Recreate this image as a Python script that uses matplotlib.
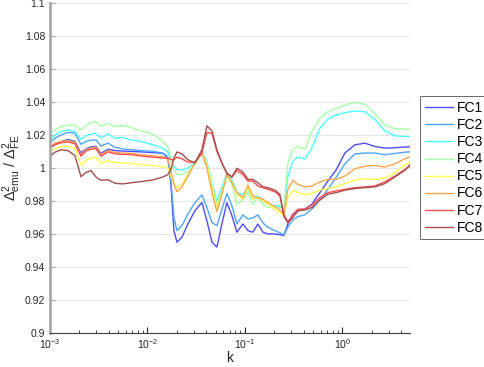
import numpy as np
import matplotlib
matplotlib.use('Agg')
import matplotlib.pyplot as plt

# log10(k) sample positions
log_k = [-3.000, -2.949, -2.887, -2.815, -2.744, -2.682, -2.631, -2.579, -2.528, -2.477,
         -2.405, -2.333, -2.251, -2.169, -2.067, -1.944, -1.841, -1.790, -1.759, -1.728,
         -1.697, -1.646, -1.585, -1.513, -1.441, -1.390, -1.338, -1.287, -1.236, -1.185,
         -1.133, -1.082, -1.021, -0.969, -0.918, -0.867, -0.815, -0.764, -0.692, -0.641,
         -0.600, -0.559, -0.508, -0.456, -0.385, -0.313, -0.231, -0.149, -0.067, 0.026,
         0.128, 0.231, 0.333, 0.436, 0.538, 0.641, 0.692]

fc1 = [1.012, 1.014, 1.016, 1.0172, 1.016, 1.009, 1.0115, 1.0128, 1.013, 1.0088,
       1.0113, 1.0105, 1.0102, 1.010, 1.0097, 1.0093, 1.0088, 1.006, 0.990, 0.962,
       0.955, 0.958, 0.966, 0.974, 0.979, 0.968, 0.955, 0.952, 0.966, 0.979,
       0.971, 0.961, 0.966, 0.962, 0.961, 0.966, 0.961, 0.960, 0.960, 0.9595,
       0.959, 0.966, 0.972, 0.974, 0.975, 0.978, 0.985, 0.992, 0.9985, 1.009,
       1.014, 1.015, 1.013, 1.012, 1.0122, 1.0127, 1.0127]
fc2 = [1.015, 1.018, 1.020, 1.0215, 1.021, 1.0143, 1.016, 1.0168, 1.017, 1.0133,
       1.015, 1.0125, 1.0115, 1.011, 1.0105, 1.010, 1.009, 1.0067, 0.992, 0.970,
       0.962, 0.965, 0.972, 0.979, 0.9836, 0.976, 0.967, 0.965, 0.975, 0.9845,
       0.977, 0.966, 0.9715, 0.969, 0.9697, 0.9715, 0.9667, 0.964, 0.962, 0.9606,
       0.9594, 0.964, 0.9685, 0.9705, 0.9715, 0.975, 0.9806, 0.987, 0.994, 1.0025,
       1.0085, 1.009, 1.009, 1.008, 1.0088, 1.0095, 1.0097]
fc3 = [1.017, 1.020, 1.022, 1.023, 1.022, 1.0174, 1.0195, 1.0206, 1.021, 1.018,
       1.0206, 1.018, 1.0185, 1.017, 1.016, 1.014, 1.012, 1.0097, 1.005, 1.001,
       0.999, 0.9985, 1.000, 1.003, 1.0097, 1.004, 0.991, 0.980, 0.988, 0.997,
       0.993, 0.985, 0.984, 0.987, 0.981, 0.983, 0.980, 0.978, 0.977, 0.977,
       0.975, 0.995, 1.004, 1.0065, 1.0055, 1.012, 1.024, 1.0295, 1.032, 1.0335,
       1.0345, 1.034, 1.0295, 1.0225, 1.0195, 1.019, 1.019]
fc4 = [1.020, 1.023, 1.025, 1.026, 1.026, 1.023, 1.0255, 1.0275, 1.028, 1.025,
       1.027, 1.025, 1.0258, 1.0245, 1.0225, 1.0205, 1.016, 1.013, 1.006, 0.999,
       0.996, 0.996, 0.998, 1.002, 1.009, 1.003, 0.990, 0.978, 0.986, 0.996,
       0.990, 0.978, 0.9806, 0.985, 0.978, 0.982, 0.978, 0.976, 0.976, 0.976,
       0.9755, 1.003, 1.011, 1.013, 1.0115, 1.022, 1.030, 1.034, 1.036, 1.038,
       1.0398, 1.0385, 1.033, 1.026, 1.0238, 1.0235, 1.0235]
fc5 = [1.010, 1.0115, 1.013, 1.0133, 1.012, 1.0018, 1.0045, 1.006, 1.0063, 1.0028,
       1.0044, 1.0032, 1.003, 1.0028, 1.002, 1.0014, 1.0006, 1.000, 0.995, 0.9905,
       0.988, 0.990, 0.996, 1.003, 1.009, 1.002, 0.988, 0.976, 0.985, 0.996,
       0.992, 0.984, 0.981, 0.988, 0.981, 0.982, 0.980, 0.978, 0.975, 0.973,
       0.971, 0.982, 0.9865, 0.985, 0.9838, 0.9845, 0.9867, 0.9875, 0.9885, 0.9905,
       0.9925, 0.9935, 0.993, 0.9938, 0.997, 1.002, 1.0036]
fc6 = [1.013, 1.015, 1.016, 1.0166, 1.0154, 1.0079, 1.011, 1.0122, 1.0125, 1.0079,
       1.0105, 1.0093, 1.009, 1.0089, 1.008, 1.0073, 1.0069, 1.005, 0.998, 0.990,
       0.9855, 0.9885, 0.995, 1.003, 1.009, 1.000, 0.985, 0.9735, 0.984, 0.996,
       0.991, 0.985, 0.982, 0.9895, 0.983, 0.982, 0.981, 0.979, 0.9765, 0.9745,
       0.972, 0.987, 0.9925, 0.990, 0.9885, 0.989, 0.9915, 0.993, 0.993, 0.995,
       0.9995, 1.001, 1.0015, 1.0005, 1.0025, 1.0055, 1.0067]
fc7 = [1.0122, 1.0142, 1.0152, 1.0158, 1.0146, 1.0071, 1.0102, 1.0114, 1.0117, 1.0071,
       1.0097, 1.0085, 1.0082, 1.0081, 1.0072, 1.0065, 1.006, 1.006, 1.005, 1.005,
       1.0065, 1.0055, 1.0035, 1.0035, 1.009, 1.0215, 1.021, 1.010, 1.003, 0.997,
       0.9945, 0.9985, 0.996, 0.992, 0.992, 0.989, 0.988, 0.987, 0.9855, 0.983,
       0.9715, 0.9675, 0.9715, 0.975, 0.975, 0.9775, 0.982, 0.985, 0.986, 0.987,
       0.988, 0.9885, 0.989, 0.9915, 0.995, 0.999, 1.001]
fc8 = [1.007, 1.0095, 1.011, 1.0105, 1.0075, 0.9947, 0.9972, 0.9984, 0.9945, 0.9925,
       0.9928, 0.9907, 0.9903, 0.991, 0.9917, 0.9927, 0.9945, 0.996, 0.999, 1.006,
       1.0097, 1.0085, 1.005, 1.003, 1.011, 1.0255, 1.0225, 1.011, 1.003, 0.9965,
       0.9945, 0.9998, 0.9975, 0.993, 0.993, 0.991, 0.9885, 0.988, 0.9865, 0.984,
       0.9705, 0.9667, 0.970, 0.974, 0.9745, 0.976, 0.9805, 0.984, 0.985, 0.9865,
       0.9875, 0.988, 0.9885, 0.9905, 0.9945, 0.9985, 1.0018]

series = [fc1, fc2, fc3, fc4, fc5, fc6, fc7, fc8]
labels = ['FC1', 'FC2', 'FC3', 'FC4', 'FC5', 'FC6', 'FC7', 'FC8']
colors = ['#4d4dff', '#4da6ff', '#4dffff', '#a6ffa6', '#ffff4d', '#ffa64d', '#ff4d4d', '#a64d4d']

plt.rcParams['font.family'] = ['Liberation Sans', 'DejaVu Sans']
plt.rcParams['mathtext.fontset'] = 'custom'
plt.rcParams['mathtext.rm'] = 'Liberation Sans'
plt.rcParams['mathtext.it'] = 'Liberation Sans:italic'

k = 10 ** np.array(log_k)

fig = plt.figure(figsize=(4.85, 3.67), dpi=100)
ax = fig.add_axes([0.103, 0.093, 0.742, 0.899])

for vals, lab, col in zip(series, labels, colors):
    ax.plot(k, vals, color=col, lw=1.0, label=lab)

ax.set_xscale('log')
ax.set_xlim(k[0], k[-1])
ax.set_ylim(0.9, 1.1)
ax.set_yticks(np.arange(0.9, 1.1001, 0.02))
ax.set_yticklabels(['0.9', '0.92', '0.94', '0.96', '0.98', '1', '1.02', '1.04', '1.06', '1.08', '1.1'])
ax.yaxis.grid(True, color='#e6e6e6', lw=0.8)
ax.set_axisbelow(True)

for s in ['top', 'right']:
    ax.spines[s].set_visible(False)
ax.spines['left'].set_color('#aaaaaa')
ax.spines['left'].set_linewidth(2)
ax.spines['bottom'].set_color('#404040')
ax.spines['bottom'].set_linewidth(0.8)

ax.tick_params(axis='both', which='both', direction='in', labelsize=7.5, colors='#262626')
ax.tick_params(axis='y', which='both', colors='#aaaaaa', labelcolor='#262626')
ax.tick_params(axis='x', which='major', length=4, pad=3)
ax.tick_params(axis='x', which='minor', length=2)

ax.set_xlabel('k', fontsize=10, color='#262626', labelpad=0)
ax.set_ylabel(r'$\Delta^2_{\mathrm{emu}}$ / $\Delta^2_{\mathrm{FE}}$', fontsize=10.5, color='#262626', labelpad=1)

leg = ax.legend(loc='center left', bbox_to_anchor=(1.028, 0.5), fontsize=10,
                frameon=True, fancybox=False, edgecolor='#262626',
                handlelength=2.0, handletextpad=0.3, labelspacing=0.22,
                borderpad=0.35, borderaxespad=0)
leg.get_frame().set_linewidth(0.6)

fig.savefig('out.png', dpi=100)
